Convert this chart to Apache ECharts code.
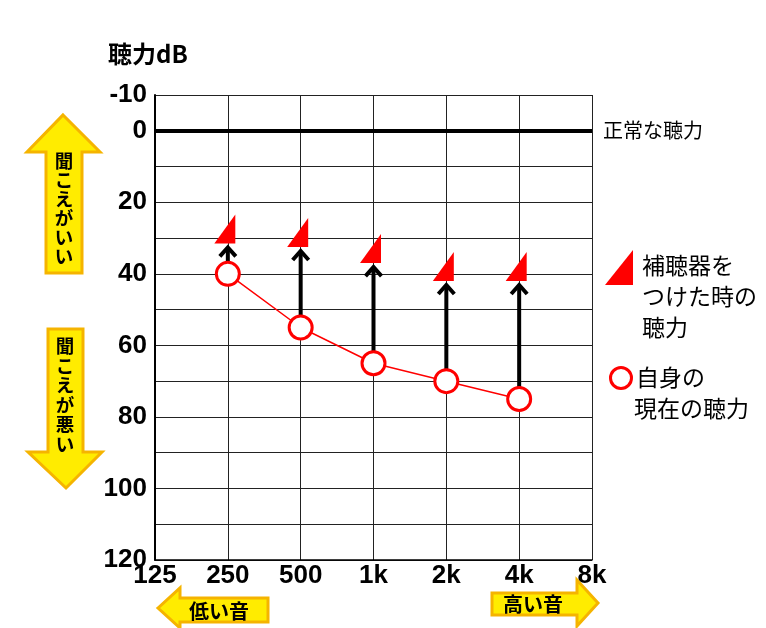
<!DOCTYPE html>
<html><head><meta charset="utf-8">
<script src="https://cdn.jsdelivr.net/npm/echarts@6/dist/echarts.min.js"></script>
<style>html,body{margin:0;padding:0;background:#fff}#c{width:766px;height:628px}</style>
</head><body><div id="c"></div>
<script>
// ---- data ----
const frequencies = ['125', '250', '500', '1k', '2k', '4k', '8k'];
const measuredFreqs = ['250', '500', '1k', '2k', '4k'];
const unaidedDb = [40, 55, 65, 70, 75];          // 自身の現在の聴力
const aidedDb = [31.5, 32.5, 37, 42, 42];        // 補聴器をつけた時の聴力
const yTickLabels = [-10, 0, 20, 40, 60, 80, 100, 120];
const normalLevel = 0;

const CJK = '"Noto Sans CJK JP", sans-serif';
const LAT = '"Liberation Sans", Arial, sans-serif';
const YELLOW = '#FFEC00';
const ORANGE = '#F5B400';

const chart = echarts.init(document.getElementById('c'), null, {renderer: 'canvas'});

function arrowPoly(points) {
  return {type: 'polygon', shape: {points: points}, style: {fill: YELLOW, stroke: ORANGE, lineWidth: 3}, z: 1};
}
function txt(text, x, y, size, opts) {
  return {type: 'text', x: x, y: y, z: 5, style: Object.assign({
    text: text, fill: '#000', fontSize: size, fontFamily: CJK,
    textAlign: 'left', textVerticalAlign: 'middle'
  }, opts || {})};
}

const option = {
  animation: false,
  backgroundColor: '#fff',
  title: {
    text: '聴力dB', left: 103, top: 37,
    textStyle: {fontSize: 24, fontWeight: 'bold', color: '#000', fontFamily: CJK}
  },
  grid: {left: 155, top: 95, width: 437, height: 465, containLabel: false},
  xAxis: {
    type: 'category', data: frequencies, boundaryGap: false,
    axisLine: {onZero: false, lineStyle: {color: '#000', width: 1.5}},
    axisTick: {show: false},
    axisLabel: {interval: 0, margin: 3, fontSize: 26, fontWeight: 'bold', color: '#000', fontFamily: LAT},
    splitLine: {show: true, lineStyle: {color: '#222', width: 1}}
  },
  yAxis: {
    type: 'value', inverse: true, min: -10, max: 120, interval: 10,
    axisLine: {show: true, lineStyle: {color: '#000', width: 2}},
    axisTick: {show: false},
    axisLabel: {
      margin: 8, fontSize: 26, fontWeight: 'bold', color: '#000', fontFamily: LAT,
      formatter: v => yTickLabels.indexOf(v) >= 0 ? String(v) : ''
    },
    splitLine: {show: true, lineStyle: {color: '#222', width: 1}}
  },
  series: [
    {
      name: '矢印', type: 'custom', z: 3,
      data: measuredFreqs.map((f, i) => [f, unaidedDb[i], aidedDb[i]]),
      encode: {x: 0, y: [1, 2]},
      renderItem: function (params, api) {
        const from = api.coord([api.value(0), api.value(1)]);
        const to = api.coord([api.value(0), api.value(2)]);
        const x = from[0];
        const y0 = from[1] - 11;
        const tip = to[1] + 2;
        return {type: 'group', children: [
          {type: 'line', shape: {x1: x, y1: y0, x2: x, y2: tip + 2}, style: {stroke: '#000', lineWidth: 4}},
          {type: 'polyline', shape: {points: [[x - 8, tip + 11], [x, tip + 2], [x + 8, tip + 11]]},
           style: {stroke: '#000', lineWidth: 4, fill: null, lineJoin: 'miter'}}
        ]};
      }
    },
    {
      name: '補聴器をつけた時の聴力', type: 'scatter', z: 4,
      data: measuredFreqs.map((f, i) => [f, aidedDb[i]]),
      symbol: 'path://M20,0 L20,29 L0,29 Z',
      symbolSize: [21, 29],
      symbolOffset: [-3, '-50%'],
      itemStyle: {color: '#FF0000', opacity: 1}
    },
    {
      name: '自身の現在の聴力', type: 'line', z: 5,
      data: measuredFreqs.map((f, i) => [f, unaidedDb[i]]),
      symbol: 'circle', symbolSize: 23, showAllSymbol: true,
      lineStyle: {color: '#FF0000', width: 1.5},
      itemStyle: {color: '#fff', borderColor: '#FF0000', borderWidth: 3},
      markLine: {
        silent: true, symbol: 'none', animation: false,
        data: [{yAxis: normalLevel}],
        lineStyle: {color: '#000', width: 4, type: 'solid'},
        label: {show: true, position: 'end', formatter: '正常な聴力', distance: 11,
          color: '#000', fontSize: 20, fontFamily: CJK}
      }
    }
  ],
  graphic: [
    // vertical arrows on the left
    arrowPoly([[63, 115], [100, 152], [82, 152], [82, 273], [46, 273], [46, 152], [27, 152]]),
    arrowPoly([[48, 329], [83, 329], [83, 452], [102, 452], [66, 488], [28, 452], [48, 452]]),
    txt('聞\nこ\nえ\nが\nい\nい', 64, 208, 18.5, {textAlign: 'center', lineHeight: 19, fontWeight: 'bold'}),
    txt('聞\nこ\nえ\nが\n悪\nい', 65, 395, 18.5, {textAlign: 'center', lineHeight: 19.5, fontWeight: 'bold'}),
    // horizontal arrows at bottom
    arrowPoly([[158, 608], [180, 588], [180, 598], [268, 598], [268, 622], [180, 622], [180, 628]]),
    arrowPoly([[492, 593], [577, 593], [577, 580], [598, 603], [577, 626], [577, 615], [492, 615]]),
    txt('低い音', 219, 611, 20, {textAlign: 'center', fontWeight: 'bold'}),
    txt('高い音', 533, 604, 20, {textAlign: 'center', fontWeight: 'bold'}),
    // legend
    {type: 'polygon', z: 5, shape: {points: [[633, 250], [633, 285], [605, 285]]}, style: {fill: '#FF0000'}},
    txt('補聴器を\nつけた時の\n聴力', 642, 296, 23, {lineHeight: 31}),
    {type: 'circle', z: 5, shape: {cx: 621, cy: 378, r: 10.5}, style: {fill: '#fff', stroke: '#FF0000', lineWidth: 3}},
    txt('自身の', 636, 377, 23),
    txt('現在の聴力', 634, 408, 23)
  ]
};
chart.setOption(option);
</script>
</body></html>
